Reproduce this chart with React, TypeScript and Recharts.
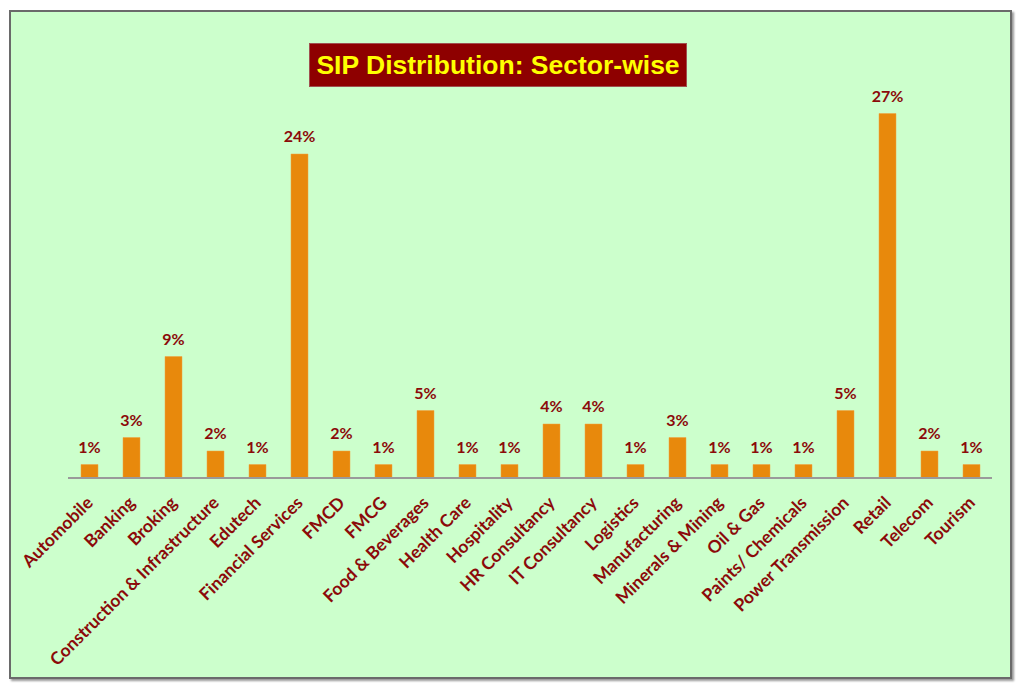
import { BarChart, Bar, XAxis, YAxis, LabelList } from 'recharts';

const sectors = [
  'Automobile', 'Banking', 'Broking', 'Construction & Infrastructure', 'Edutech',
  'Financial Services', 'FMCD', 'FMCG', 'Food & Beverages', 'Health Care',
  'Hospitality', 'HR Consultancy', 'IT Consultancy', 'Logistics', 'Manufacturing',
  'Minerals & Mining', 'Oil & Gas', 'Paints/ Chemicals', 'Power Transmission',
  'Retail', 'Telecom', 'Tourism',
];
const shares = [1, 3, 9, 2, 1, 24, 2, 1, 5, 1, 1, 4, 4, 1, 3, 1, 1, 1, 5, 27, 2, 1];

const data = sectors.map((name, i) => ({ name, share: shares[i] }));

const RED = '#8B0A0A';
const FONT = 'Lato, "Open Sans", sans-serif';

function SectorTick(props: any) {
  const { x, y, payload } = props;
  return (
    <g transform={`translate(${x + 5},${y + 18})`}>
      <text
        transform="rotate(-45)"
        textAnchor="end"
        fill={RED}
        fontSize={17.5}
        fontWeight={700}
        fontFamily={FONT}
      >
        {payload.value}
      </text>
    </g>
  );
}

export default function App() {
  return (
    <div style={{ position: 'absolute', left: 0, top: 0, width: 1024, height: 691, background: '#fff' }}>
      <div
        style={{
          position: 'absolute', left: 9, top: 10, width: 999, height: 665,
          border: '2px solid #6a6a6a', background: '#CCFFCC',
          boxShadow: '2px 2px 2px #9a9a9a',
        }}
      />
      <div
        style={{
          position: 'absolute', left: 309, top: 43, width: 378, height: 44,
          background: '#8E0000', border: '1px solid #a05050', boxSizing: 'border-box',
          color: '#FFFF00', fontFamily: 'Arial, "Liberation Sans", sans-serif',
          fontWeight: 700, fontSize: 26.5, display: 'flex', alignItems: 'center', justifyContent: 'center',
        }}
      >
        SIP Distribution: Sector-wise
      </div>
      <div style={{ position: 'absolute', left: 0, top: 0 }}>
        <BarChart
          width={1024}
          height={691}
          data={data}
          margin={{ top: 113.5, right: 32, bottom: 0, left: 68 }}
          barCategoryGap={12}
        >
          <YAxis hide domain={[0, 27]} />
          <XAxis
            dataKey="name"
            interval={0}
            height={213}
            tickLine={false}
            axisLine={{ stroke: '#9a9a9a', strokeWidth: 2 }}
            tick={<SectorTick />}
          />
          <Bar dataKey="share" fill="#E8890C" stroke="#F0A040" strokeWidth={0.5} barSize={17} isAnimationActive={false}>
            <LabelList
              dataKey="share"
              position="top"
              offset={12}
              formatter={(v: any) => `${v}%`}
              fill={RED}
              fontSize={16}
              fontWeight={700}
              fontFamily={FONT}
            />
          </Bar>
        </BarChart>
      </div>
    </div>
  );
}
